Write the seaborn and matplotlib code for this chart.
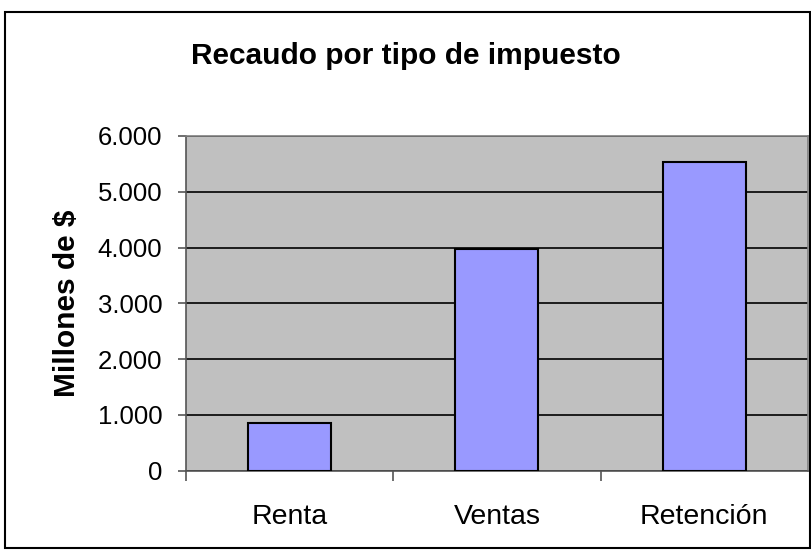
import matplotlib
matplotlib.use("Agg")
import matplotlib.pyplot as plt
import matplotlib.ticker as mticker
import pandas as pd
import seaborn as sns

categorias = ["Renta", "Ventas", "Retención"]
recaudo = [860, 3980, 5530]
y_ticks = [0, 1000, 2000, 3000, 4000, 5000, 6000]

sns.set_style("white")
plt.rcParams["font.family"] = ["Liberation Sans", "DejaVu Sans"]
plt.rcParams["text.color"] = "black"
plt.rcParams["axes.labelcolor"] = "black"

df = pd.DataFrame({"tipo": categorias, "valor": recaudo})

fig = plt.figure(figsize=(8.12, 5.55), dpi=100)
ax = fig.add_axes([0.229, 0.152, 0.766, 0.603])
ax.set_facecolor("#C0C0C0")

sns.barplot(data=df, x="tipo", y="valor", color="#9999FF", width=0.4,
            edgecolor="black", linewidth=1.5, saturation=1, ax=ax, zorder=3)

ax.set_xlim(-0.5, 2.5)
ax.set_ylim(0, 6000)
ax.set_yticks(y_ticks)
ax.yaxis.set_major_formatter(mticker.FuncFormatter(
    lambda v, p: f"{int(v):,}".replace(",", ".")))
ax.yaxis.grid(True, color="black", linewidth=1.2, zorder=1)
ax.set_axisbelow(True)

ax.set_xticks([0, 1, 2])
ax.set_xticks([-0.5, 0.5, 1.5], minor=True)
ax.tick_params(axis="x", which="major", length=0, pad=24, labelsize=20.5,
               labelcolor="black")
ax.tick_params(axis="x", which="minor", length=7, color="#555555", width=1.2,
               direction="out", bottom=True)
ax.tick_params(axis="y", length=6, color="#555555", width=1.2, direction="out",
               left=True, labelsize=18.5, pad=11, labelcolor="black")

for s in ["top", "right"]:
    ax.spines[s].set_color("#808080")
    ax.spines[s].set_linewidth(1.2)
for s in ["left", "bottom"]:
    ax.spines[s].set_color("#555555")
    ax.spines[s].set_linewidth(1.2)

ax.set_xlabel("")
ax.set_ylabel("Millones de $", fontsize=21.5, fontweight="bold")
ax.yaxis.set_label_coords(-0.168, 0.5)

fig.text(0.5, 0.899, "Recaudo por tipo de impuesto", ha="center", va="center",
         fontsize=21.5, fontweight="bold")

border = plt.Rectangle((0.006, 0.013), 0.992, 0.965, transform=fig.transFigure,
                       fill=False, edgecolor="black", linewidth=1.5)
fig.patches.append(border)

fig.savefig("out.png", dpi=100)
